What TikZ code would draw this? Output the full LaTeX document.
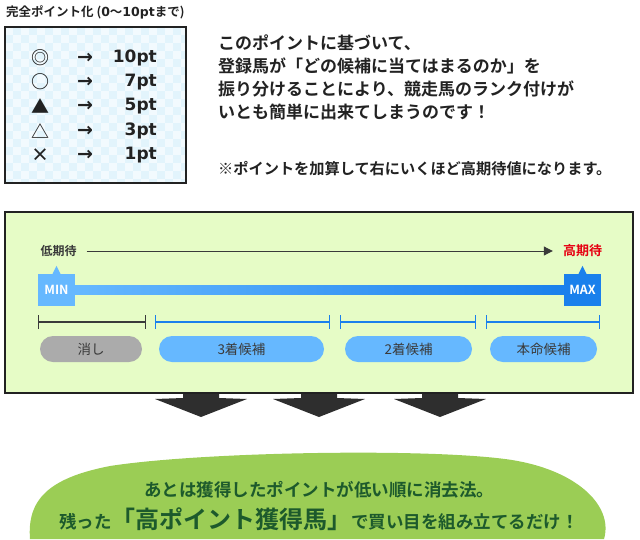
\documentclass[tikz,border=0pt]{standalone}
\usepackage{fontspec}
\setmainfont{Noto Sans CJK JP}[BoldFont={* Bold}]
\newfontfamily\latinfont{DejaVu Sans}[BoldFont={* Bold}]
\usetikzlibrary{arrows.meta}

\definecolor{textblack}{HTML}{222222}
\definecolor{textdark}{HTML}{3A3A3A}
\definecolor{checkbg}{HTML}{E2F4FC}
\definecolor{checkfg}{HTML}{F2FAFE}
\definecolor{panelbg}{HTML}{E6FCC6}
\definecolor{lightblue}{HTML}{66B8FF}
\definecolor{deepblue}{HTML}{1A80EC}
\definecolor{pillgray}{HTML}{ABABAB}
\definecolor{hotred}{HTML}{E60012}
\definecolor{arrowdark}{HTML}{2E2E2E}
\definecolor{blobgreen}{HTML}{9BCD55}
\definecolor{textgreen}{HTML}{1D5A2C}

\begin{document}
\begin{tikzpicture}[x=1pt, y=-1pt,
    every node/.style={inner sep=0pt},
    lead/.style={anchor=west, align=left, text=textblack,
      font=\fontsize{17}{23}\selectfont\bfseries},
    sym/.style={text=textblack, font=\fontsize{18}{18}\selectfont\bfseries},
    arw/.style={text=textblack, font=\latinfont\bfseries\fontsize{19}{19}\selectfont},
    val/.style={anchor=east, text=textblack, font=\latinfont\bfseries\fontsize{17}{17}\selectfont},
    endbox/.style={minimum width=37pt, minimum height=32pt, text=white,
      font=\fontsize{12.5}{12.5}\selectfont\bfseries},
    pill/.style={rounded corners=13pt, minimum height=26pt, text=textdark,
      font=\fontsize{13.5}{13.5}\selectfont},
    span/.style={line width=1.2pt, {Bar[width=14pt]}-{Bar[width=14pt]}},
    endtext/.style={text=textgreen, font=\fontsize{17.5}{17.5}\selectfont\bfseries}]
  \useasboundingbox (0,0) rectangle (640,539);

  % ポイント表
  \node[anchor=west, text=textblack, font=\fontsize{12.5}{12.5}\selectfont\bfseries] (title) at (6,12)
    {完全ポイント化 ({\latinfont 0}〜{\latinfont 10pt}まで)};
  \fill[checkbg] (5,27) rectangle (186,183);
  \begin{scope}
    \clip (5,27) rectangle (186,183);
    \foreach \x in {5,21,...,185}
      \foreach \y in {27,43,...,183} {
        \fill[checkfg] (\x,\y) rectangle ++(8,8);
        \fill[checkfg] (\x+8,\y+8) rectangle ++(8,8);
      }
  \end{scope}
  \draw[textblack, line width=2pt] (5,27) rectangle (186,183);
  \foreach \s/\v/\y [count=\i] in {◎/10pt/58, ○/7pt/82, ▲/5pt/106.5, △/3pt/131, ×/1pt/155} {
    \node[sym] (sym\i) at (40,\y) {\s};
    \node[arw] (arw\i) at (85,\y) {→};
    \node[val] (val\i) at (157,\y) {\v};
  }

  % 説明文
  \node[lead] (lead) at (218,77.5) {このポイントに基づいて、\\
    登録馬が「どの候補に当てはまるのか」を\\
    振り分けることにより、競走馬のランク付けが\\
    いとも簡単に出来てしまうのです！};
  \node[anchor=west, text=textblack, font=\fontsize{15.2}{15.2}\selectfont\bfseries] (note) at (218,169)
    {※ポイントを加算して右にいくほど高期待値になります。};

  % 期待値パネル
  \draw[textblack, line width=2pt, fill=panelbg] (5,212) rectangle (633,393);
  \node[text=textdark, font=\fontsize{12}{12}\selectfont\bfseries] (lo) at (58.5,251) {低期待};
  \node[text=hotred, font=\fontsize{13}{13}\selectfont\bfseries] (hi) at (582.5,251) {高期待};
  \draw[textdark, line width=1pt, -{Triangle[length=9pt,width=9pt]},
    shorten <=10pt, shorten >=10pt] (lo) -- (hi);

  \shade[left color=lightblue, right color=deepblue] (75,285) rectangle (564,294);
  \node[endbox, fill=lightblue] (min) at (56.5,290) {MIN};
  \node[endbox, fill=deepblue] (max) at (582.5,290) {MAX};
  \fill[lightblue] ([xshift=-4pt]min.north) -- ([yshift=8pt]min.north) -- ([xshift=4pt]min.north) -- cycle;
  \fill[deepblue] ([xshift=-4pt]max.north) -- ([yshift=8pt]max.north) -- ([xshift=4pt]max.north) -- cycle;

  \foreach \a/\b/\c in {38/146/textdark, 155/330/deepblue, 340/476/deepblue, 486/600/deepblue}
    \draw[span, \c] (\a,322) -- (\b,322);

  \node[pill, fill=pillgray, minimum width=102pt] (kesu) at (91,349) {消し};
  \node[pill, fill=lightblue, minimum width=165pt] (third) at (241.5,349) {3着候補};
  \node[pill, fill=lightblue, minimum width=127pt] (second) at (408.5,349) {2着候補};
  \node[pill, fill=lightblue, minimum width=107pt] (honmei) at (543.5,349) {本命候補};

  % 下向き矢印
  \foreach \cx in {201,319,440}
    \fill[arrowdark] (\cx-18,394) -- (\cx-18,398) -- (\cx-46,399) -- (\cx,417)
      -- (\cx+46,399) -- (\cx+18,398) -- (\cx+18,394) -- cycle;

  % まとめ
  \fill[blobgreen] (30,539) .. controls (27,500) and (48,478) .. (110,466)
    .. controls (200,452) and (420,448) .. (505,459)
    .. controls (575,468) and (614,505) .. (604,539) -- cycle;
  \node[endtext] (sum1) at (319,490) {あとは獲得したポイントが低い順に消去法。};
  \node[endtext, anchor=base] (sum2) at (319,528.5)
    {残った{\fontsize{24}{24}\selectfont 「高ポイント獲得馬」}で買い目を組み立てるだけ！};
\end{tikzpicture}
\end{document}
